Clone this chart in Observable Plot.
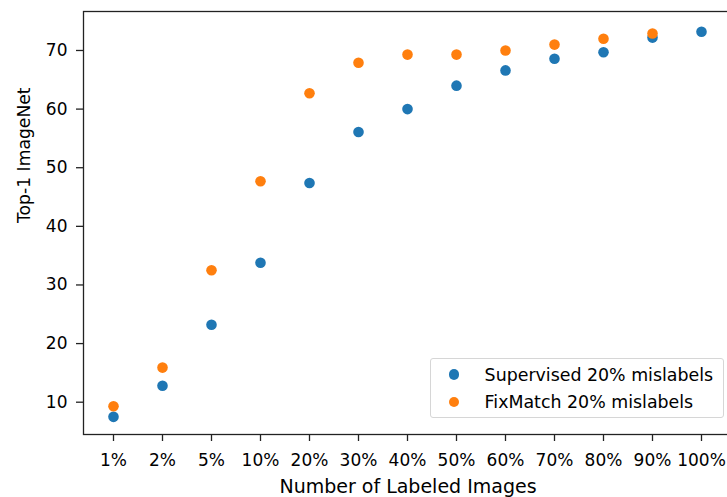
<!DOCTYPE html>
<html>
<head>
<meta charset="utf-8">
<script src="https://cdn.jsdelivr.net/npm/d3@7"></script>
<script src="https://cdn.jsdelivr.net/npm/@observablehq/plot@0.6"></script>
<style>
  html, body { margin: 0; padding: 0; background: #fff; overflow: hidden; }
  #wrap { position: relative; width: 727px; height: 497px; }
  #legend {
    position: absolute; left: 430px; top: 358px; width: 294px; height: 60px;
    box-sizing: border-box; border: 1px solid #d6d6d6; border-radius: 3px;
    background: rgba(255,255,255,0.8); padding-top: 2px;
    font-family: "DejaVu Sans"; font-size: 17.4px; color: #000;
  }
  .row { display: flex; align-items: center; height: 27.4px; }
  .sw { width: 10.6px; height: 10.6px; border-radius: 50%; margin-left: 17.5px; margin-right: 25.5px; }
</style>
</head>
<body>
<div id="wrap"></div>
<script>
// Data
const categories = ["1%","2%","5%","10%","20%","30%","40%","50%","60%","70%","80%","90%","100%"];
const supervised = [7.5, 12.8, 23.2, 33.8, 47.4, 56.1, 60.0, 64.0, 66.6, 68.6, 69.7, 72.2, 73.2];
const fixmatch   = [9.3, 15.9, 32.5, 47.7, 62.7, 67.9, 69.3, 69.3, 70.0, 71.0, 72.0, 72.9];
const seriesNames = ["Supervised 20% mislabels", "FixMatch 20% mislabels"];
const seriesColors = ["#1f77b4", "#ff7f0e"];
const yTicks = [10, 20, 30, 40, 50, 60, 70];
const xLabel = "Number of Labeled Images";
const yLabel = "Top-1 ImageNet";

const rows = [];
supervised.forEach((v, i) => rows.push({cat: categories[i], value: v, series: seriesNames[0]}));
fixmatch.forEach((v, i) => rows.push({cat: categories[i], value: v, series: seriesNames[1]}));

const chart = Plot.plot({
  width: 727,
  height: 497,
  marginLeft: 83,
  marginTop: 11,
  marginBottom: 63,
  marginRight: -5,
  style: {fontFamily: "DejaVu Sans", fontSize: "17px", color: "#000", background: "transparent"},
  x: {type: "point", domain: categories, range: [111.7, 701.9], padding: 0, label: null},
  y: {domain: [4.49, 76.65], label: null},
  color: {domain: seriesNames, range: seriesColors},
  marks: [
    Plot.axisX({ticks: categories, tickSize: 7, tickPadding: 12, label: null, stroke: "#222", strokeWidth: 1.3}),
    Plot.axisY({ticks: yTicks, tickSize: 7, tickPadding: 9, label: null, stroke: "#222", strokeWidth: 1.3}),
    Plot.dot(rows, {x: "cat", y: "value", fill: "series", r: 5.3}),
    Plot.frame({stroke: "#222", strokeWidth: 1.3}),
    Plot.text([xLabel], {frameAnchor: "bottom", dy: 52, lineAnchor: "middle", fontSize: 19}),
    Plot.text([yLabel], {frameAnchor: "left", dx: -59, rotate: -90, lineAnchor: "middle", fontSize: 17.2})
  ]
});
const wrap = document.getElementById("wrap");
wrap.appendChild(chart);

// Legend (HTML overlay, built from the same series arrays)
const leg = document.createElement("div");
leg.id = "legend";
seriesNames.forEach((name, i) => {
  const r = document.createElement("div");
  r.className = "row";
  const s = document.createElement("span");
  s.className = "sw";
  s.style.background = seriesColors[i];
  const t = document.createElement("span");
  t.textContent = name;
  r.appendChild(s); r.appendChild(t);
  leg.appendChild(r);
});
wrap.appendChild(leg);
</script>
</body>
</html>
